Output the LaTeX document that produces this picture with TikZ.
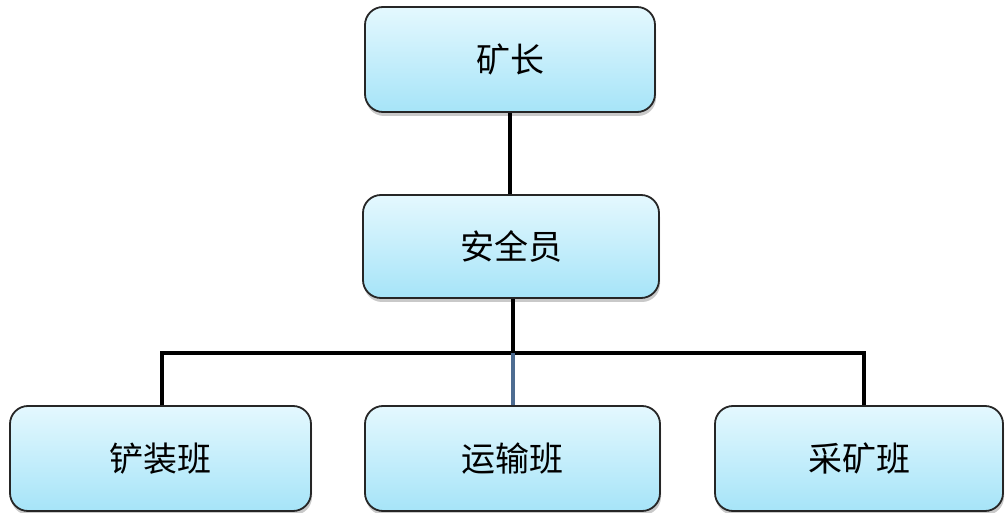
\documentclass[tikz,border=0pt]{standalone}
\usepackage{fontspec}
\newfontfamily\cjk{Noto Sans CJK SC}
\usetikzlibrary{shadows}
\definecolor{boxtop}{HTML}{E4F8FE}
\definecolor{boxbot}{HTML}{A6E4F8}
\definecolor{linkblue}{HTML}{4D6C91}
\tikzset{
  box/.style={draw=black!85, line width=1.8pt, rounded corners=18pt,
    top color=boxtop, bottom color=boxbot, inner sep=0pt,
    font=\cjk\fontsize{34}{38}\selectfont,
    drop shadow={shadow xshift=1pt, shadow yshift=-4pt, opacity=0.35, fill=black!60}},
  link/.style={line width=3.2pt, black},
}
\begin{document}
\begin{tikzpicture}[x=1pt,y=1pt]
\clip (0,0) rectangle (1005,-513);
\fill[white] (0,0) rectangle (1005,-513);
\node[box, minimum width=290pt, minimum height=105pt] (kz) at (510,-59.5) {矿长};
\node[box, minimum width=296pt, minimum height=103pt] (aq) at (511,-246.5) {安全员};
\node[box, minimum width=301pt, minimum height=105pt] (cz) at (160.5,-458.5) {铲装班};
\node[box, minimum width=295pt, minimum height=105pt] (ys) at (512.5,-458.5) {运输班};
\node[box, minimum width=288pt, minimum height=105pt] (ck) at (859,-458.5) {采矿班};
\coordinate (bar) at (513,-353);
\draw[link] (kz.south) -- (kz.south |- aq.north);
\draw[link] (aq.south -| bar) -- (bar);
\draw[link] (cz.north -| 162,0) -- (162,-353) -- (864,-353) -- (ck.north -| 864,0);
\draw[line width=3.2pt, linkblue] (bar) -- (ys.north -| bar);
\end{tikzpicture}
\end{document}
